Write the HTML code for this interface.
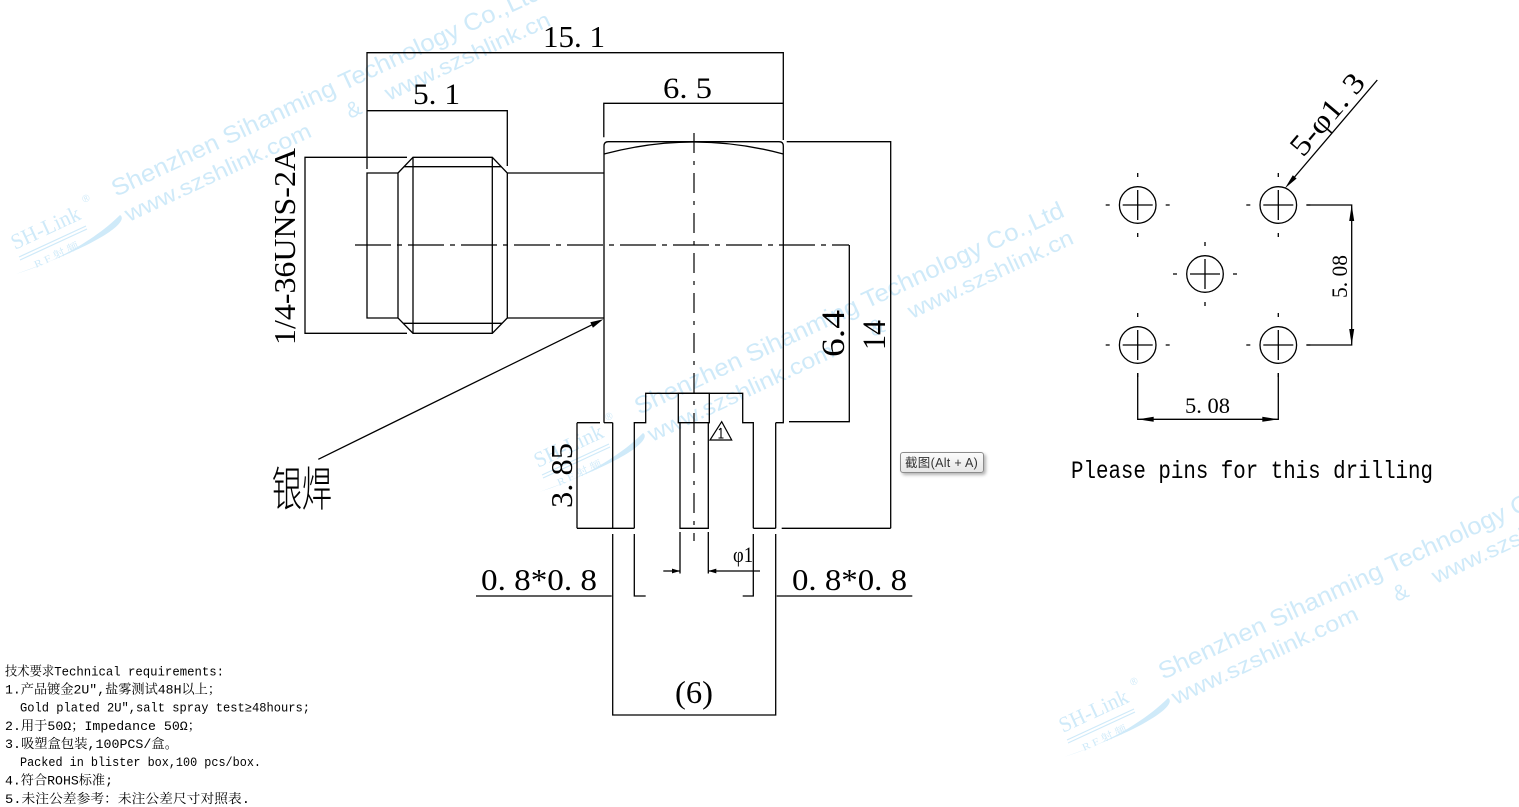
<!DOCTYPE html>
<html>
<head>
<meta charset="utf-8">
<style>
html,body{margin:0;padding:0;background:#fff;}
body{width:1519px;height:807px;position:relative;overflow:hidden;}
svg{position:absolute;left:0;top:0;}
.tip{position:absolute;left:900px;top:452px;width:84px;height:21px;border:1px solid #8c8c8c;border-radius:3px;background:linear-gradient(#fbfbfb,#e6e6e6);box-shadow:2px 2px 3px rgba(0,0,0,0.3);font:12.5px "Liberation Sans","Noto Sans CJK SC",sans-serif;color:#333;line-height:20px;box-sizing:border-box;padding-left:4px;white-space:nowrap;letter-spacing:0.3px;}
</style>
</head>
<body>
<svg width="1519" height="807" viewBox="0 0 1519 807" xmlns="http://www.w3.org/2000/svg">
<!-- watermarks -->
<g fill="#cfeaf9" font-family="Liberation Sans, sans-serif">
  <text transform="translate(116,197) rotate(-25)" font-size="24" textLength="471" lengthAdjust="spacingAndGlyphs">Shenzhen  Sihanming  Technology  Co.,Ltd</text>
  <text transform="translate(129,222) rotate(-25)" font-size="22" textLength="203" lengthAdjust="spacingAndGlyphs">www.szshlink.com</text>
  <text transform="translate(350,119) rotate(-25)" font-size="22">&amp;</text>
  <text transform="translate(389,101) rotate(-25)" font-size="22" textLength="180" lengthAdjust="spacingAndGlyphs">www.szshlink.cn</text>
  <text transform="translate(639,415) rotate(-25)" font-size="24" textLength="471" lengthAdjust="spacingAndGlyphs">Shenzhen  Sihanming  Technology  Co.,Ltd</text>
  <text transform="translate(652,442) rotate(-25)" font-size="22" textLength="203" lengthAdjust="spacingAndGlyphs">www.szshlink.com</text>
  <text transform="translate(873,337) rotate(-25)" font-size="22">&amp;</text>
  <text transform="translate(912,319) rotate(-25)" font-size="22" textLength="180" lengthAdjust="spacingAndGlyphs">www.szshlink.cn</text>
  <text transform="translate(1163,680) rotate(-25)" font-size="24" textLength="471" lengthAdjust="spacingAndGlyphs">Shenzhen  Sihanming  Technology  Co.,Ltd</text>
  <text transform="translate(1176,705) rotate(-25)" font-size="22" textLength="203" lengthAdjust="spacingAndGlyphs">www.szshlink.com</text>
  <text transform="translate(1397,602) rotate(-25)" font-size="22">&amp;</text>
  <text transform="translate(1436,584) rotate(-25)" font-size="22" textLength="180" lengthAdjust="spacingAndGlyphs">www.szshlink.cn</text>
</g>
<!-- logos -->
<g fill="#cfeaf9" stroke="none">
  <text transform="translate(15,250) rotate(-25)" font-family="Liberation Serif, serif" font-size="22" textLength="74" lengthAdjust="spacingAndGlyphs">SH-Link</text>
  <text transform="translate(84,203) rotate(-25)" font-family="Liberation Sans, sans-serif" font-size="10">®</text>
  <path d="M19,257 L86,226 M20,260 L87,229" stroke="#cfeaf9" stroke-width="1.2" fill="none"/>
  <text transform="translate(36,268) rotate(-25)" font-family="Liberation Serif, 'Noto Serif CJK SC', serif" font-size="10" textLength="48" lengthAdjust="spacingAndGlyphs">R F 射 频</text>
  <path d="M16,274 C55,262 95,240 120,215 C128,220 112,240 16,274 Z"/>
</g>
<g fill="#cfeaf9" stroke="none" transform="translate(523,218)">
  <text transform="translate(15,250) rotate(-25)" font-family="Liberation Serif, serif" font-size="22" textLength="74" lengthAdjust="spacingAndGlyphs">SH-Link</text>
  <text transform="translate(84,203) rotate(-25)" font-family="Liberation Sans, sans-serif" font-size="10">®</text>
  <path d="M19,257 L86,226 M20,260 L87,229" stroke="#cfeaf9" stroke-width="1.2" fill="none"/>
  <text transform="translate(36,268) rotate(-25)" font-family="Liberation Serif, 'Noto Serif CJK SC', serif" font-size="10" textLength="48" lengthAdjust="spacingAndGlyphs">R F 射 频</text>
  <path d="M16,274 C55,262 95,240 120,215 C128,220 112,240 16,274 Z"/>
</g>
<g fill="#cfeaf9" stroke="none" transform="translate(1048,483)">
  <text transform="translate(15,250) rotate(-25)" font-family="Liberation Serif, serif" font-size="22" textLength="74" lengthAdjust="spacingAndGlyphs">SH-Link</text>
  <text transform="translate(84,203) rotate(-25)" font-family="Liberation Sans, sans-serif" font-size="10">®</text>
  <path d="M19,257 L86,226 M20,260 L87,229" stroke="#cfeaf9" stroke-width="1.2" fill="none"/>
  <text transform="translate(36,268) rotate(-25)" font-family="Liberation Serif, 'Noto Serif CJK SC', serif" font-size="10" textLength="48" lengthAdjust="spacingAndGlyphs">R F 射 频</text>
  <path d="M16,274 C55,262 95,240 120,215 C128,220 112,240 16,274 Z"/>
</g>

<!-- main drawing -->
<g stroke="#000" stroke-width="1.3" fill="none" stroke-linecap="butt">
  <path d="M355,245 H849" stroke-dasharray="36,6,5,6" stroke-width="1.2"/>
  <path d="M694,133 V541" stroke-dasharray="20,8,4,8" stroke-width="1.2"/>

  <path d="M407,157.3 H305 V333.3 H407"/>
  <path d="M398,173 H367 V318 H398"/>
  <path d="M398,173 L413,157.3 H492.3 L507.3,173 V318 L492.3,333.3 H413 L398,318 Z"/>
  <path d="M413,157.3 V333.3 M492.3,157.3 V333.3"/>
  <path d="M403.6,166.7 H501.5 M403,323.3 H502"/>
  <path d="M507.3,173 H604 M507.3,318 H604"/>

  <path d="M367,169 V52.7 H783.3 V140"/>
  <path d="M367,110.7 H507.3 V166"/>
  <path d="M603.8,137.3 V103.3 H783.3"/>

  <path d="M604,422.7 V146 Q604,141.7 608.3,141.7 H779 Q783.3,141.7 783.3,146 V422.7 H775.7"/>
  <path d="M604,154 Q694,130 783.3,154"/>
  <path d="M604,422.7 H612.7"/>

  <path d="M612.7,422.7 V528.3"/>
  <path d="M634.3,528.3 V422.7 H645.7 V393.3 H742.7 V422.7 H753.3 V528.3"/>
  <path d="M775.7,422.7 V528.3"/>
  <path d="M577,528.3 H634.3 M753.3,528.3 H775.7 M781.7,528.3 H890.7"/>
  <path d="M577,422.7 H600 M577,422.7 V528.3"/>
  <path d="M678.3,422.7 V393.3 H709.3 V422.7 Z"/>
  <path d="M680,422.7 V528.3 H708.3 V422.7"/>

  <path d="M786.7,141.7 H890.7 V528.3"/>
  <path d="M849.3,245 V421.7 H789"/>

  <path d="M612.7,534 V715 H775.7 V534"/>
  <path d="M634.3,534 V596 H645.7 M753.3,534 V596 H742.7"/>
  <path d="M680,532 V573.5 M708.3,532 V573.5"/>
  <path d="M663.3,571 H680 M708.3,571 H760"/>
  <path d="M476,596 H611.7 M776.7,596 H912.3"/>

  <path d="M721.7,421.7 L710,440 H731.7 Z" stroke-width="1.2"/>
  <path d="M721,428 V438 M718.5,438 H723.5 M719,430 L721,428" stroke-width="1.1"/>

  <path d="M318.3,459.3 L595,323.3"/>

  <g transform="translate(1137.7,205)">
    <circle r="18.3" cx="0" cy="0"/>
    <path d="M-15,0 H15 M0,-15 V15 M-32,0 H-28 M28,0 H32 M0,-32 V-28 M0,28 V32"/>
  </g>
  <g transform="translate(1278.3,205)">
    <circle r="18.3" cx="0" cy="0"/>
    <path d="M-15,0 H15 M0,-15 V15 M-32,0 H-28 M28,0 H32 M0,-32 V-28 M0,28 V32"/>
  </g>
  <g transform="translate(1205,274)">
    <circle r="18.3" cx="0" cy="0"/>
    <path d="M-15,0 H15 M0,-15 V15 M-32,0 H-28 M28,0 H32 M0,-32 V-28 M0,28 V32"/>
  </g>
  <g transform="translate(1137.7,345)">
    <circle r="18.3" cx="0" cy="0"/>
    <path d="M-15,0 H15 M0,-15 V15 M-32,0 H-28 M28,0 H32 M0,-32 V-28 M0,28 V32"/>
  </g>
  <g transform="translate(1278.3,345)">
    <circle r="18.3" cx="0" cy="0"/>
    <path d="M-15,0 H15 M0,-15 V15 M-32,0 H-28 M28,0 H32 M0,-32 V-28 M0,28 V32"/>
  </g>
  <path d="M1306.7,205 H1351.7 V345 H1306.7"/>
  <path d="M1137.7,373 V419.3 H1278.3 V373"/>
  <path d="M1377.3,80 L1292,180"/>
</g>

<g fill="#000" stroke="none">
  <path d="M603.3,319.3 L592.9,327.7 L590.3,322.3 Z"/>
  <path d="M1285,188.3 L1296.6,178.5 L1292.8,175.3 Z"/>
  <path d="M1351.7,205 L1349.2,221 L1354.2,221 Z"/>
  <path d="M1351.7,345 L1349.2,329 L1354.2,329 Z"/>
  <path d="M1137.7,419.3 L1153.7,416.8 L1153.7,421.8 Z"/>
  <path d="M1278.3,419.3 L1262.3,416.8 L1262.3,421.8 Z"/>
  <path d="M680,571 L672,568.6 L672,573.4 Z"/>
  <path d="M708.3,571 L716.3,568.6 L716.3,573.4 Z"/>
</g>

<g fill="#000" font-family="Liberation Serif, serif">
  <text x="543" y="47" font-size="31" textLength="62" lengthAdjust="spacingAndGlyphs" xml:space="preserve">15. 1</text>
  <text x="413" y="104" font-size="30" textLength="47" lengthAdjust="spacingAndGlyphs" xml:space="preserve">5. 1</text>
  <text x="663" y="98" font-size="30" textLength="49" lengthAdjust="spacingAndGlyphs" xml:space="preserve">6. 5</text>
  <text transform="translate(295,345) rotate(-90)" font-size="31" textLength="197" lengthAdjust="spacingAndGlyphs">1/4-36UNS-2A</text>
  <text transform="translate(844,357) rotate(-90)" font-size="33" textLength="47" lengthAdjust="spacingAndGlyphs">6.4</text>
  <text transform="translate(885,350) rotate(-90)" font-size="33" textLength="30" lengthAdjust="spacingAndGlyphs">14</text>
  <text transform="translate(572,508) rotate(-90)" font-size="31" textLength="65" lengthAdjust="spacingAndGlyphs" xml:space="preserve">3. 85</text>
  <text x="481" y="590" font-size="31" textLength="116" lengthAdjust="spacingAndGlyphs" xml:space="preserve">0. 8*0. 8</text>
  <text x="792" y="590" font-size="31" textLength="115" lengthAdjust="spacingAndGlyphs" xml:space="preserve">0. 8*0. 8</text>
  <text x="733" y="562" font-size="22" textLength="20" lengthAdjust="spacingAndGlyphs">φ1</text>
  <text x="675" y="703" font-size="32" textLength="38" lengthAdjust="spacingAndGlyphs">(6)</text>
  <text transform="translate(1303,158) rotate(-49.6)" font-size="30" textLength="98" lengthAdjust="spacingAndGlyphs" xml:space="preserve">5-φ1. 3</text>
  <text transform="translate(1347,298) rotate(-90)" font-size="22" textLength="43" lengthAdjust="spacingAndGlyphs" xml:space="preserve">5. 08</text>
  <text x="1185" y="413" font-size="22" textLength="45" lengthAdjust="spacingAndGlyphs" xml:space="preserve">5. 08</text>
  <text x="1071" y="478" font-size="25" textLength="362" lengthAdjust="spacingAndGlyphs" font-family="Liberation Mono, monospace">Please pins for this drilling</text>
  <text x="272" y="506" font-size="47" font-weight="300" textLength="60" lengthAdjust="spacingAndGlyphs" font-family="'Noto Sans CJK SC', 'WenQuanYi Zen Hei', sans-serif">银焊</text>
</g>

<g fill="#000" font-family="Liberation Mono, 'Noto Serif CJK SC', monospace" font-size="13">
  <text x="5" y="675.5" textLength="219" lengthAdjust="spacingAndGlyphs">技术要求Technical requirements:</text>
  <text x="5" y="693.5" textLength="216" lengthAdjust="spacingAndGlyphs">1.产品镀金2U″,盐雾测试48H以上；</text>
  <text x="20" y="711.5" textLength="290" lengthAdjust="spacingAndGlyphs">Gold plated 2U″,salt spray test≥48hours;</text>
  <text x="5" y="730" textLength="196" lengthAdjust="spacingAndGlyphs">2.用于50Ω；Impedance 50Ω；</text>
  <text x="5" y="748" textLength="173" lengthAdjust="spacingAndGlyphs">3.吸塑盒包装,100PCS/盒。</text>
  <text x="20" y="766" textLength="241" lengthAdjust="spacingAndGlyphs">Packed in blister box,100 pcs/box.</text>
  <text x="5" y="784.5" textLength="108" lengthAdjust="spacingAndGlyphs">4.符合ROHS标准;</text>
  <text x="5" y="803" textLength="245" lengthAdjust="spacingAndGlyphs">5.未注公差参考：未注公差尺寸对照表.</text>
</g>
</svg>
<div class="tip">截图(Alt + A)</div>
</body>
</html>
